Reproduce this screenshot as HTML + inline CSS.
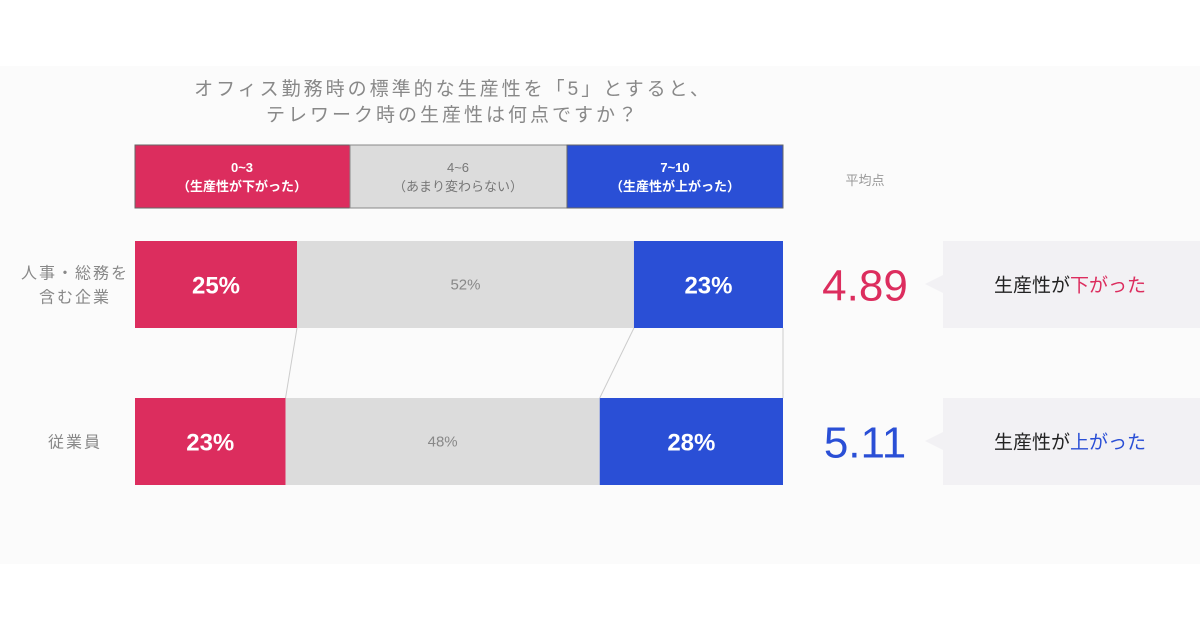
<!DOCTYPE html>
<html><head><meta charset="utf-8"><style>
body{margin:0;width:1200px;height:630px;background:#fff;overflow:hidden;font-family:"Liberation Sans","Noto Sans CJK JP",sans-serif}
</style></head><body>
<svg width="1200" height="630" xmlns="http://www.w3.org/2000/svg" style="font-family:'Liberation Sans','Noto Sans CJK JP',sans-serif">
<rect x="0" y="66" width="1200" height="498" fill="#fbfbfb"/>
<text x="453" y="95" font-size="19" fill="#888" text-anchor="middle" letter-spacing="3">オフィス勤務時の標準的な生産性を「5」とすると、</text>
<text x="453" y="121" font-size="19" fill="#888" text-anchor="middle" letter-spacing="3">テレワーク時の生産性は何点ですか？</text>
<g>
<rect x="135" y="145" width="215" height="63" fill="#dc2d5e" stroke="#666" stroke-width="1"/>
<rect x="350" y="145" width="217" height="63" fill="#dcdcdc" stroke="#888" stroke-width="1"/>
<rect x="567" y="145" width="216" height="63" fill="#2a4fd6" stroke="#666" stroke-width="1"/>
<text x="242" y="172" font-size="13" font-weight="bold" fill="#fff" text-anchor="middle">0~3</text>
<text x="242" y="191" font-size="13" font-weight="bold" fill="#fff" text-anchor="middle">（生産性が下がった）</text>
<text x="458" y="172" font-size="13" fill="#777" text-anchor="middle">4~6</text>
<text x="458" y="191" font-size="13" fill="#777" text-anchor="middle">（あまり変わらない）</text>
<text x="675" y="172" font-size="13" font-weight="bold" fill="#fff" text-anchor="middle">7~10</text>
<text x="675" y="191" font-size="13" font-weight="bold" fill="#fff" text-anchor="middle">（生産性が上がった）</text>
</g>
<text x="865" y="185" font-size="13" fill="#999" text-anchor="middle">平均点</text>
<g id="bars"></g>
</svg>
<script>
const categories = ["人事・総務を|含む企業", "従業員"];
const downVals = [25, 23];
const sameVals = [52, 48];
const upVals = [23, 28];
const averages = ["4.89", "5.11"];
const verdicts = ["下がった", "上がった"];

const NS = "http://www.w3.org/2000/svg";
const g = document.getElementById("bars");
const x0 = 135, W = 648, rowY = [241, 398], H = 87;
function mk(tag, attrs, parent) {
  const e = document.createElementNS(NS, tag);
  for (const k in attrs) e.setAttribute(k, attrs[k]);
  (parent || g).appendChild(e);
  return e;
}
const colors = ["#dc2d5e", "#dcdcdc", "#2a4fd6"];
const ends = [];
categories.forEach((cat, i) => {
  const y = rowY[i];
  const vals = [downVals[i], sameVals[i], upVals[i]];
  const total = vals.reduce((a, b) => a + b, 0);
  const xs = v => x0 + W * v / total;
  let acc = 0;
  const rowEnds = [];
  vals.forEach((v, j) => {
    const r = mk("rect", {x: xs(acc), y: y, width: xs(acc + v) - xs(acc), height: H, fill: colors[j]});
    
    
    const t = mk("text", {x: (xs(acc) + xs(acc + v)) / 2, y: y + H / 2 + (j === 1 ? 5 : 9), "text-anchor": "middle",
      "font-size": j === 1 ? 15 : 24, "font-weight": j === 1 ? "normal" : "bold", fill: j === 1 ? "#888" : "#fff"});
    t.textContent = v + "%";
    
    
    acc += v;
    rowEnds.push(xs(acc));
  });
  ends.push(rowEnds);
  const lines = cat.split("|");
  lines.forEach((ln, k) => {
    const t = mk("text", {x: 75, y: y + H / 2 + (lines.length === 1 ? 6 : (k === 0 ? -6 : 18)), "text-anchor": "middle", "font-size": 16, fill: "#888", "letter-spacing": 2});
    t.textContent = ln;
    
    
  });
  const avg = mk("text", {x: 865, y: y + H / 2 + 16, "text-anchor": "middle", "font-size": 44, fill: i === 0 ? "#dc2d5e" : "#2a4fd6"});
  avg.textContent = averages[i];
  
  
  const cb = mk("path", {d: `M943 ${y} H1200 V${y + H} H943 V${y + 52} L925 ${y + 43} L943 ${y + 34} Z`, fill: "#f2f1f4"});
  
  
  const vt = mk("text", {x: 1070, y: y + H / 2 + 7, "text-anchor": "middle", "font-size": 19, fill: "#222"});
  
  
  const s1 = mk("tspan", {}, vt); s1.textContent = "生産性が";
  const s2 = mk("tspan", {fill: i === 0 ? "#dc2d5e" : "#2a4fd6"}, vt); s2.textContent = verdicts[i];
});
[0, 1, 2].forEach(j => {
  const l = mk("line", {x1: ends[0][j], y1: rowY[0] + H, x2: ends[1][j], y2: rowY[1], stroke: "#ccc", "stroke-width": 1});
  
  
});
</script>
</body></html>
